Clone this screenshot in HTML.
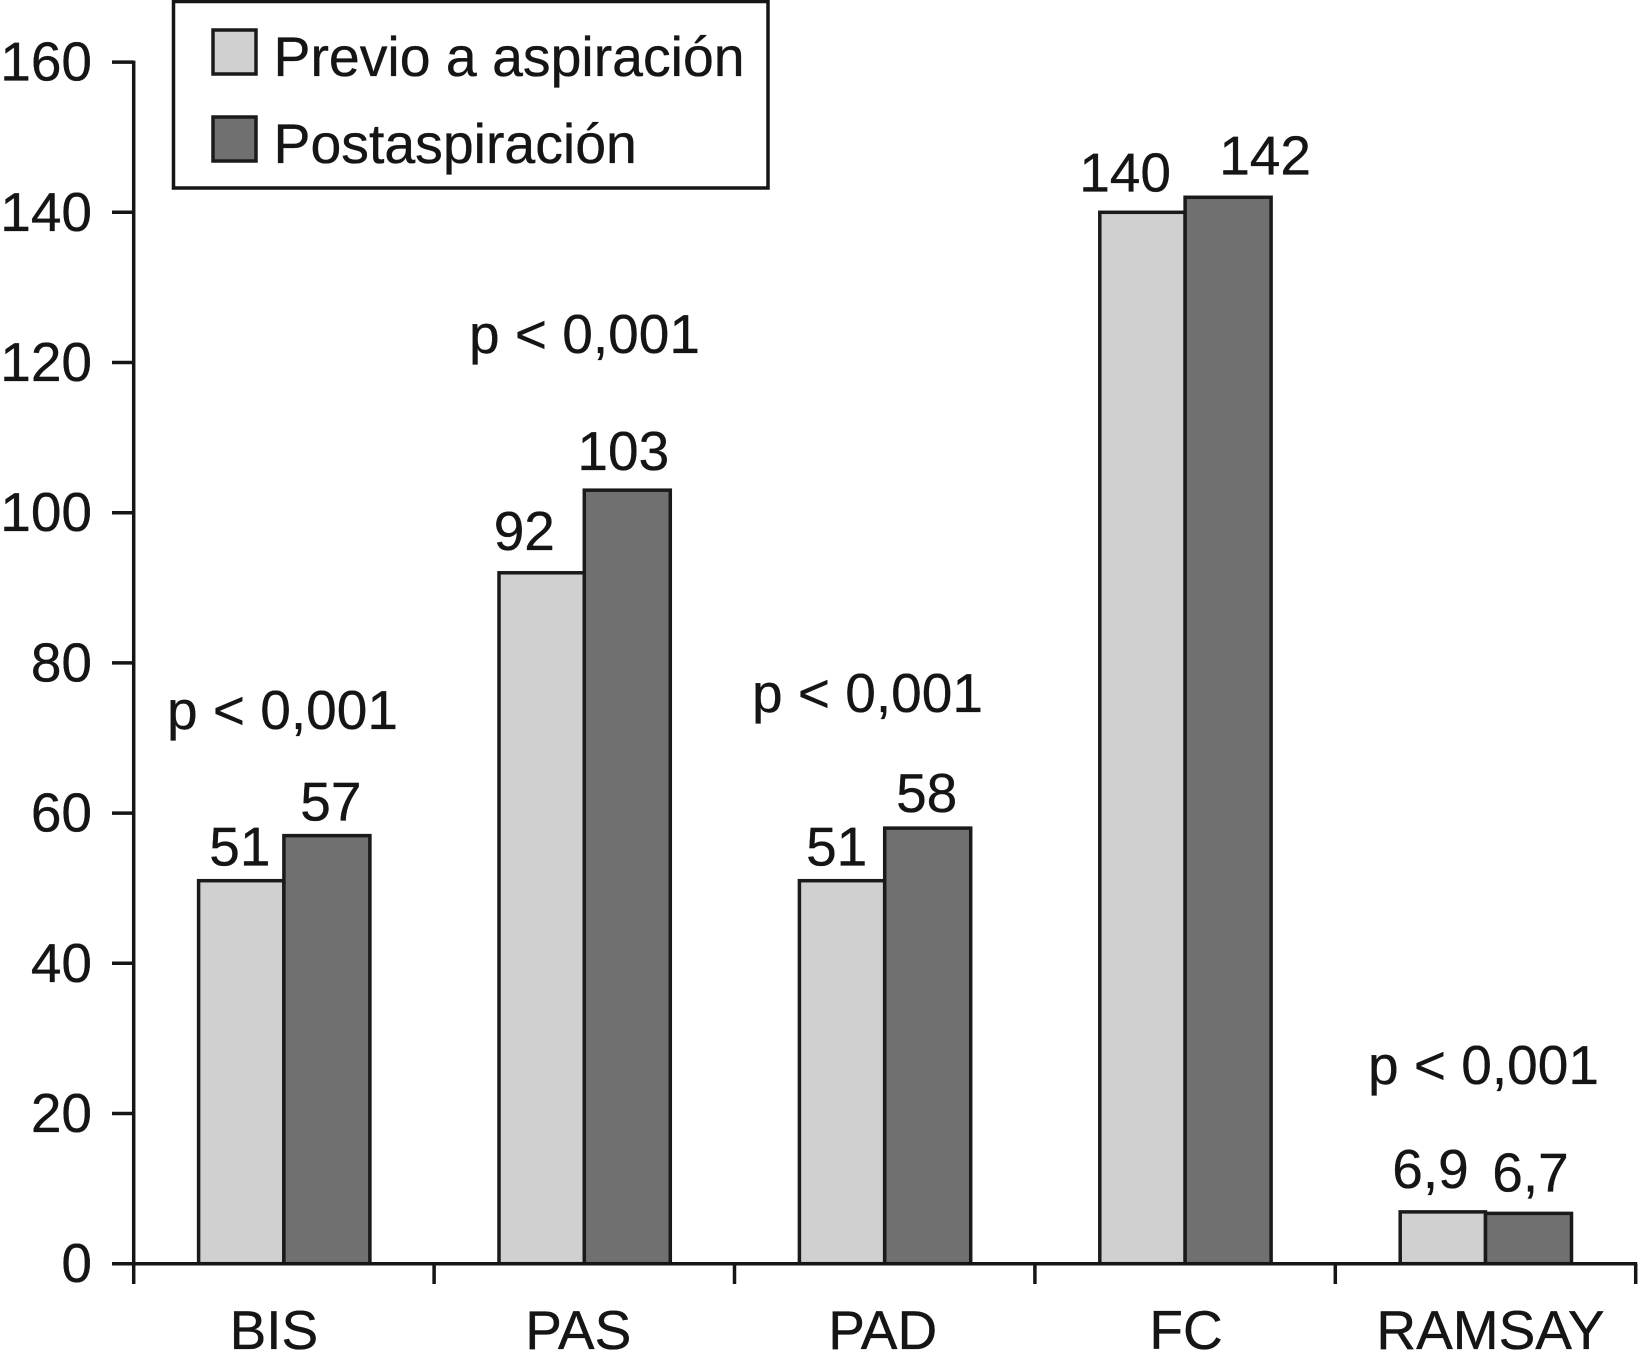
<!DOCTYPE html>
<html lang="es">
<head>
<meta charset="utf-8">
<title>Previo a aspiración vs postaspiración</title>
<style>
  html, body { margin: 0; padding: 0; background: #fff; }
  svg { display: block; }
  text { font-family: "Liberation Sans", Arial, sans-serif; font-size: 55px; fill: #151515; stroke: #151515; stroke-width: 0.35px; }
</style>
</head>
<body>
<svg id="chart" xmlns="http://www.w3.org/2000/svg" width="1638" height="1368" viewBox="0 0 1638 1368">
  <rect x="0" y="0" width="1638" height="1368" fill="#ffffff"/>
  <g id="marks"></g>
  <g id="axes"></g>
  <g id="labels"></g>
  <g>
    <text x="167" y="729">p &lt; 0,001</text>
    <text x="469" y="353">p &lt; 0,001</text>
    <text x="752" y="712">p &lt; 0,001</text>
    <text x="1368" y="1084">p &lt; 0,001</text>
  </g>
  <g>
    <rect x="173.5" y="1.5" width="594.5" height="186.5" fill="#ffffff" stroke="#151515" stroke-width="3.5"/>
    <rect x="213" y="30" width="43" height="44" fill="#d0d0d0" stroke="#1a1a1a" stroke-width="3.5"/>
    <text x="273.5" y="76" style="font-size:55.4px">Previo a aspiración</text>
    <rect x="213" y="117" width="43" height="44" fill="#707070" stroke="#1a1a1a" stroke-width="3.5"/>
    <text x="273.5" y="163" style="font-size:55.4px">Postaspiración</text>
  </g>
</svg>
<script>
const categories = ["BIS", "PAS", "PAD", "FC", "RAMSAY"];
const seriesPrevio = [51, 92, 51, 140, 6.9];
const seriesPost = [57, 103, 58, 142, 6.7];
const yTicks = [0, 20, 40, 60, 80, 100, 120, 140, 160];

const NS = "http://www.w3.org/2000/svg";
const STROKE = "#1a1a1a";
const X0 = 133.7, CAT_W = 300.4, BAR_W = 86;
const Y0 = 1263.7, Y_UNIT = 7.51;
function xBand(i) { return X0 + CAT_W * (i + 0.5); }
function yScale(v) { return Y0 - v * Y_UNIT; }
function fmt(v) { return String(v).replace(".", ","); }

function make(tag, attrs, parent, txt) {
  const el = document.createElementNS(NS, tag);
  for (const k in attrs) el.setAttribute(k, attrs[k]);
  if (txt !== undefined) el.textContent = txt;
  parent.appendChild(el);
  return el;
}

const marks = document.getElementById("marks");
const axes = document.getElementById("axes");
const labels = document.getElementById("labels");

/* small hand-placement nudges for printed labels, [dx, extra lift] */
const previoNudge = [[-1, 0], [-17, 8], [-5, 0], [-17, 6], [-12, 9]];
const postNudge = [[4, 0], [-4, 5], [-1, 1], [37, 8], [2, 7]];
const categoryNudge = [-10, -6, -2, 1, 5];

categories.forEach(function (cat, i) {
  const c = xBand(i);
  const a = seriesPrevio[i], b = seriesPost[i];

  const barA = make("rect", { x: c - BAR_W + 0.7, y: yScale(a), width: BAR_W - 0.7, height: Y0 - yScale(a), fill: "#d0d0d0", stroke: STROKE, "stroke-width": 3.5 }, marks);
  
  

  const barB = make("rect", { x: c, y: yScale(b), width: BAR_W, height: Y0 - yScale(b), fill: "#707070", stroke: STROKE, "stroke-width": 3.5 }, marks);
  
  

  const la = make("text", { x: c - BAR_W / 2 + previoNudge[i][0], y: yScale(a) - 15 - previoNudge[i][1], "text-anchor": "middle" }, labels, fmt(a));
  
  

  const lb = make("text", { x: c + BAR_W / 2 + postNudge[i][0], y: yScale(b) - 15 - postNudge[i][1], "text-anchor": "middle" }, labels, fmt(b));
  
  

  const cl = make("text", { x: c + categoryNudge[i], y: 1349, "text-anchor": "middle" }, axes, cat);
  
  
});

const yLine = make("line", { x1: X0, x2: X0, y1: yScale(160) - 1.5, y2: 1284, stroke: "#151515", "stroke-width": 3.5 }, axes);



const xLine = make("line", { x1: 112, x2: X0 + CAT_W * categories.length + 1.5, y1: Y0, y2: Y0, stroke: "#151515", "stroke-width": 3.5 }, axes);



yTicks.forEach(function (t) {
  const tick = make("line", { x1: 112, x2: X0, y1: yScale(t), y2: yScale(t), stroke: "#151515", "stroke-width": 3.5 }, axes);
  
  

  const lab = make("text", { x: 92, y: yScale(t) + 18.5, "text-anchor": "end" }, axes, String(t));
  
  
});

for (let i = 1; i <= categories.length; i++) {
  const tick = make("line", { x1: X0 + CAT_W * i, x2: X0 + CAT_W * i, y1: Y0, y2: 1284, stroke: "#151515", "stroke-width": 3.5 }, axes);
  
  
}
</script>
</body>
</html>
